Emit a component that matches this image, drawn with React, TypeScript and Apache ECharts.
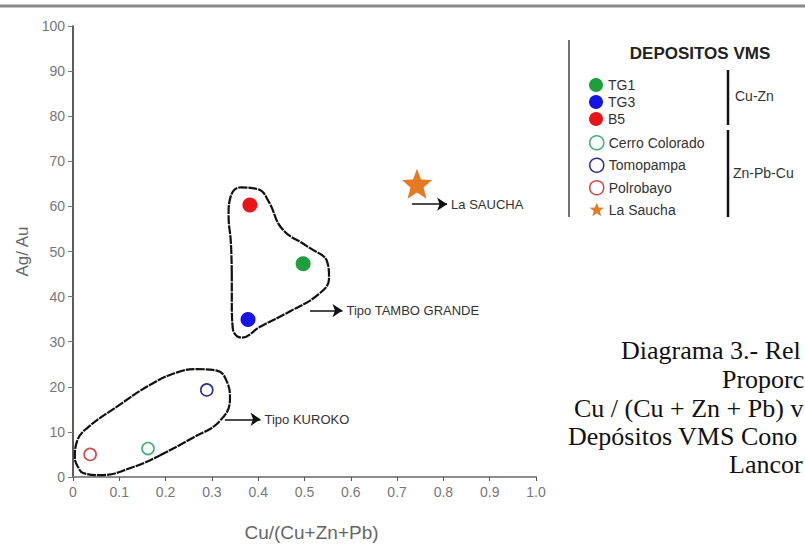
import React, { useEffect, useRef } from "react";
import * as echarts from "echarts";

// ---- data ----
const xTickLabels = ["0", "0.1", "0.2", "0.3", "0.4", "0.5", "0.6", "0.7", "0.8", "0.9", "1.0"];
const yTickLabels = ["0", "10", "20", "30", "40", "50", "60", "70", "80", "90", "100"];

const tg1 = [[0.497, 47.3]];
const tg3 = [[0.378, 34.9]];
const b5 = [[0.382, 60.3]];
const cerroColorado = [[0.162, 6.3]];
const tomopampa = [[0.289, 19.3]];
const polrobayo = [[0.037, 5.0]];
const laSaucha = [[0.743, 65.0]];

const tamboGrandeOutline = [
  [0.343, 45.0], [0.341, 52.0], [0.336, 58.0], [0.340, 62.0], [0.362, 64.2], [0.400, 63.8],
  [0.423, 61.0], [0.452, 55.0], [0.508, 51.0], [0.549, 47.7],
  [0.553, 44.0], [0.530, 40.5], [0.470, 36.8], [0.404, 33.3], [0.365, 30.9],
  [0.345, 33.0], [0.343, 39.0], [0.343, 45.0],
];

const kurokoOutline = [
  [0.188, 4.8], [0.259, 8.7], [0.317, 12.4], [0.339, 17.4], [0.333, 21.0],
  [0.311, 23.6], [0.268, 23.9], [0.225, 23.2], [0.166, 20.4], [0.095, 15.6],
  [0.030, 10.8], [0.009, 8.0], [0.004, 4.3], [0.011, 2.2], [0.022, 0.9],
  [0.058, 0.4], [0.130, 2.2], [0.188, 4.8],
];

const arrowLaSaucha = { label: "La SAUCHA", from: [0.732, 60.5], to: [0.808, 60.5] };
const arrowTambo = { label: "Tipo TAMBO GRANDE", from: [0.512, 36.9], to: [0.582, 36.9] };
const arrowKuroko = { label: "Tipo KUROKO", from: [0.328, 12.8], to: [0.405, 12.8] };

const legendTitle = "DEPOSITOS VMS";
const groupCuZn = ["TG1", "TG3", "B5"];
const groupZnPbCu = ["Cerro Colorado", "Tomopampa", "Polrobayo", "La Saucha"];
const groupLabels = ["Cu-Zn", "Zn-Pb-Cu"];

const captionLines = [
  "Diagrama 3.- Rel",
  "Proporc",
  "Cu / (Cu + Zn + Pb) v",
  "Depósitos VMS Cono",
  "Lancor",
];

const STAR = "path://M12,0.5 L15.2,8.6 L24,9 L17.2,14.6 L19.6,23.3 L12,18.4 L4.4,23.3 L6.8,14.6 L0,9 L8.8,8.6 Z";
const SANS = "'Liberation Sans', Arial, sans-serif";
const SERIF = "'Liberation Serif', 'Times New Roman', serif";

const colors = {
  TG1: "#1e9e3c",
  TG3: "#1414e6",
  B5: "#e81418",
  "Cerro Colorado": "#3fae72",
  Tomopampa: "#2b2b9c",
  Polrobayo: "#d24a4a",
  "La Saucha": "#e57a22",
};

function arrowMarkLine(a: { label: string; from: number[]; to: number[] }) {
  return {
    silent: true,
    symbol: ["none", "arrow"],
    symbolSize: 10,
    itemStyle: { color: "#111" },
    lineStyle: { color: "#111", width: 1.5, type: "solid" },
    label: {
      show: true,
      position: "end",
      formatter: a.label,
      color: "#333",
      fontSize: 13,
      fontFamily: SANS,
      distance: 4,
    },
    emphasis: { disabled: true },
    data: [[{ coord: a.from }, { coord: a.to }]],
  };
}

export default function App() {
  const ref = useRef<HTMLDivElement>(null);

  useEffect(() => {
    if (!ref.current) return;
    const chart = echarts.init(ref.current, null, { renderer: "svg" });

    const filled = (name: string, data: number[][]) => ({
      name,
      type: "scatter",
      data,
      symbol: "circle",
      symbolSize: 15,
      itemStyle: { color: (colors as any)[name], opacity: 1 },
      z: 5,
    });
    const open = (name: string, data: number[][]) => ({
      name,
      type: "scatter",
      data,
      symbol: "circle",
      symbolSize: 12,
      itemStyle: { color: "#fff", borderColor: (colors as any)[name], borderWidth: 1.6, opacity: 1 },
      z: 5,
    });

    const option: any = {
      animation: false,
      backgroundColor: "#fff",
      grid: { left: 73, top: 26, width: 463, height: 461, containLabel: false },
      xAxis: [
        {
          type: "value",
          min: 0,
          max: 1,
          interval: 0.1,
          name: "Cu/(Cu+Zn+Pb)",
          nameLocation: "middle",
          nameGap: 46,
          nameTextStyle: { fontSize: 19, color: "#666", fontFamily: SANS, padding: [0, 0, 0, 14] },
          axisLine: { lineStyle: { color: "#333", width: 1.5 } },
          axisTick: { show: true, length: 4, lineStyle: { color: "#555" } },
          axisLabel: {
            fontSize: 14,
            color: "#777",
            fontFamily: SANS,
            margin: 8,
            formatter: (v: number) => xTickLabels[Math.round(v * 10)],
          },
          splitLine: { show: false },
        },
        {
          type: "value",
          position: "top",
          min: 0,
          max: 1,
          axisLine: { show: true, lineStyle: { color: "#9a9a9a", width: 1.5 } },
          axisTick: { show: false },
          axisLabel: { show: false },
          splitLine: { show: false },
        },
      ],
      yAxis: [
        {
          type: "value",
          min: 0,
          max: 100,
          interval: 10,
          name: "Ag/ Au",
          nameLocation: "middle",
          nameGap: 36,
          nameRotate: 90,
          nameTextStyle: { fontSize: 17, color: "#666", fontFamily: SANS },
          axisLine: { show: true, lineStyle: { color: "#888", width: 1.5 } },
          axisTick: { show: true, length: 5, lineStyle: { color: "#777" } },
          axisLabel: {
            fontSize: 14,
            color: "#777",
            fontFamily: SANS,
            margin: 8,
            formatter: (v: number) => yTickLabels[Math.round(v / 10)],
          },
          splitLine: { show: false },
        },
        {
          type: "value",
          position: "right",
          min: 0,
          max: 100,
          axisLine: { show: true, lineStyle: { color: "#444", width: 1.5 } },
          axisTick: { show: false },
          axisLabel: { show: false },
          splitLine: { show: false },
        },
      ],
      legend: [
        {
          data: groupCuZn.map((n) => ({ name: n, icon: "circle" })),
          orient: "vertical",
          left: 584,
          top: 73,
          itemWidth: 14,
          itemHeight: 14,
          itemGap: 3,
          selectedMode: false,
          textStyle: { fontSize: 14, color: "#333", fontFamily: SANS, lineHeight: 14 },
        },
        {
          data: groupZnPbCu.map((n) =>
            n === "La Saucha"
              ? { name: n, icon: STAR, itemStyle: { color: colors["La Saucha"] } }
              : {
                  name: n,
                  icon: "circle",
                  itemStyle: { color: "#fff", borderColor: (colors as any)[n], borderWidth: 1.5 },
                }
          ),
          orient: "vertical",
          left: 584,
          top: 130,
          itemWidth: 14,
          itemHeight: 14,
          itemGap: 7,
          selectedMode: false,
          textStyle: { fontSize: 14, color: "#333", fontFamily: SANS, lineHeight: 14 },
        },
      ],
      series: [
        {
          name: "Tambo Grande",
          type: "line",
          data: tamboGrandeOutline,
          smooth: 0.45,
          showSymbol: false,
          symbol: "none",
          silent: true,
          lineStyle: { color: "#111", width: 2.2, type: [9, 1] },
          markLine: arrowMarkLine(arrowTambo),
          z: 3,
        },
        {
          name: "Kuroko",
          type: "line",
          data: kurokoOutline,
          smooth: 0.45,
          showSymbol: false,
          symbol: "none",
          silent: true,
          lineStyle: { color: "#111", width: 2.2, type: [9, 1] },
          markLine: arrowMarkLine(arrowKuroko),
          z: 3,
        },
        filled("TG1", tg1),
        filled("TG3", tg3),
        filled("B5", b5),
        open("Cerro Colorado", cerroColorado),
        open("Tomopampa", tomopampa),
        open("Polrobayo", polrobayo),
        {
          name: "La Saucha",
          type: "scatter",
          data: laSaucha,
          symbol: STAR,
          symbolSize: 30,
          itemStyle: { color: colors["La Saucha"], opacity: 1 },
          markLine: arrowMarkLine(arrowLaSaucha),
          z: 5,
        },
      ],
      graphic: [
        { type: "line", shape: { x1: 0, y1: 6, x2: 805, y2: 6 }, style: { stroke: "#8a8a8a", lineWidth: 3 } },
        { type: "line", shape: { x1: 569, y1: 40, x2: 569, y2: 217 }, style: { stroke: "#444", lineWidth: 1.5 } },
        { type: "line", shape: { x1: 728, y1: 70, x2: 728, y2: 125 }, style: { stroke: "#111", lineWidth: 2.5 } },
        { type: "line", shape: { x1: 728, y1: 130, x2: 728, y2: 217 }, style: { stroke: "#111", lineWidth: 2.5 } },
        {
          type: "text",
          x: 700,
          y: 53,
          style: {
            text: legendTitle,
            fill: "#222",
            font: `bold 17px ${SANS}`,
            textAlign: "center",
            textVerticalAlign: "middle",
          },
        },
        {
          type: "text",
          x: 735,
          y: 96,
          style: { text: groupLabels[0], fill: "#333", font: `14px ${SANS}`, textVerticalAlign: "middle" },
        },
        {
          type: "text",
          x: 733,
          y: 173,
          style: { text: groupLabels[1], fill: "#333", font: `14px ${SANS}`, textVerticalAlign: "middle" },
        },
        ...captionLines.map((t, i) => ({
          type: "text",
          x: [621, 722, 574, 568, 729][i],
          y: [350, 379, 408, 436, 464][i],
          style: { text: t, fill: "#111", font: `26px ${SERIF}`, textVerticalAlign: "middle" },
        })),
      ],
    };

    chart.setOption(option);
    return () => chart.dispose();
  }, []);

  return (
    <div
      ref={ref}
      style={{ position: "fixed", left: 0, top: 0, width: 805, height: 547, overflow: "hidden", background: "#fff" }}
    />
  );
}
